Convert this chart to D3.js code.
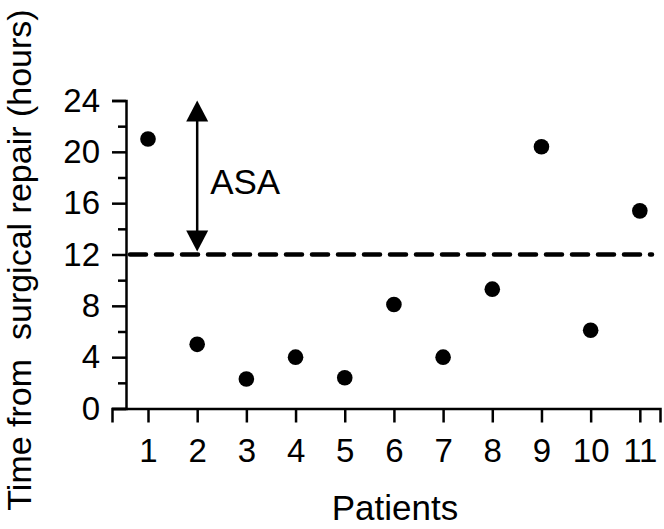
<!DOCTYPE html>
<html><head><meta charset="utf-8">
<script src="https://cdn.jsdelivr.net/npm/d3@7"></script>
<style>body{margin:0;background:#fff}svg{display:block}</style>
</head><body>
<script>
const patients = [1,2,3,4,5,6,7,8,9,10,11];
const hours = [21.0,5.0,2.3,4.0,2.4,8.1,4.0,9.3,20.4,6.1,15.4];
const yTicks = [0,4,8,12,16,20,24];
const threshold = 12;
const arrowPatient = 2;
const annotation = "ASA";
const xTitle = "Patients";
const yTitle = "Time from\u00a0 surgical repair (hours)";

const W=664,H=529;
const font = "'Liberation Sans', Arial, sans-serif";
const svg = d3.select("body").append("svg").attr("width",W).attr("height",H);
const x = d3.scaleLinear().domain([0.268,11.41]).range([112,660]);
const y = d3.scaleLinear().domain([0,24]).range([408.5,100.5]);

// x axis
const xa = svg.append("g").attr("transform",`translate(0,${y(0)})`)
  .call(d3.axisBottom(x).tickValues(patients).tickSizeOuter(0).tickSize(14).tickPadding(16).tickFormat(d3.format("d")));
xa.select(".domain").attr("stroke","#000").attr("stroke-width",2.5);
xa.selectAll(".tick line").attr("stroke","#000").attr("stroke-width",2.5);
xa.selectAll(".tick text").attr("font-family",font).attr("font-size",33).attr("fill","#000");

// y axis
const ya = svg.append("g").attr("transform",`translate(126,0)`)
  .call(d3.axisLeft(y).tickValues(d3.range(0,25,2)).tickSizeOuter(0).tickSize(14).tickPadding(12)
    .tickFormat(d=> yTicks.includes(d) ? d : ""));
ya.select(".domain").attr("stroke","#000").attr("stroke-width",2.5);
ya.selectAll(".tick line").attr("stroke","#000").attr("stroke-width",2.5)
  .attr("x2",d=> yTicks.includes(d) ? -14 : -8);
ya.selectAll(".tick text").attr("font-family",font).attr("font-size",33).attr("fill","#000");

// dashed threshold
svg.append("line").attr("x1",130).attr("x2",652).attr("y1",y(threshold)).attr("y2",y(threshold))
  .attr("stroke","#000").attr("stroke-width",4.5).attr("stroke-dasharray","16,10").attr("stroke-linecap","round");

// arrow
const ax = x(arrowPatient);
svg.append("line").attr("x1",ax).attr("x2",ax).attr("y1",y(24)+18).attr("y2",y(threshold)-20)
  .attr("stroke","#000").attr("stroke-width",2.5);
svg.append("path").attr("d",`M${ax},${y(24)} L${ax-11},${y(24)+21} L${ax+11},${y(24)+21}Z`).attr("fill","#000");
svg.append("path").attr("d",`M${ax},${y(threshold)-3} L${ax-11},${y(threshold)-24} L${ax+11},${y(threshold)-24}Z`).attr("fill","#000");
svg.append("text").attr("x",ax+13).attr("y",194).text(annotation)
  .attr("font-family",font).attr("font-size",35).attr("fill","#000");

// points
svg.selectAll("circle.pt").data(patients).enter().append("circle").attr("class","pt")
  .attr("cx",(d)=>x(d)).attr("cy",(d,i)=>y(hours[i])).attr("r",7.8).attr("fill","#000");

// titles
svg.append("text").attr("x",395).attr("y",520).attr("text-anchor","middle").text(xTitle)
  .attr("font-family",font).attr("font-size",35).attr("fill","#000");
svg.append("text").attr("transform",`translate(31,${260}) rotate(-90)`).attr("text-anchor","middle").text(yTitle)
  .attr("font-family",font).attr("font-size",34).attr("fill","#000");
</script>
</body></html>
